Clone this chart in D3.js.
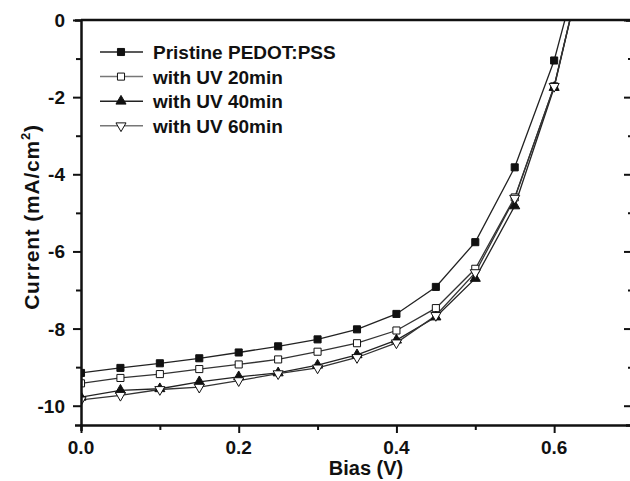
<!DOCTYPE html>
<html>
<head>
<meta charset="utf-8">
<script src="https://cdn.jsdelivr.net/npm/d3@7"></script>
<style>
  body { margin: 0; background: #fff; }
  text { font-family: "Liberation Sans", Arial, sans-serif; font-weight: bold; fill: #111; }
</style>
</head>
<body>
<div id="chart"></div>
<script>
// bias points (V)
const bias = [0, 0.05, 0.1, 0.15, 0.2, 0.25, 0.3, 0.35, 0.4, 0.45, 0.5, 0.55, 0.6, 0.65];

// current density (mA/cm2) for each film
const pristine = [-9.15, -9.02, -8.9, -8.77, -8.62, -8.46, -8.28, -8.02, -7.62, -6.92, -5.76, -3.82, -1.05, 2.8];
const uv20 = [-9.42, -9.28, -9.18, -9.05, -8.93, -8.8, -8.6, -8.38, -8.05, -7.47, -6.45, -4.6, -1.72, 2.6];
const uv40 = [-9.78, -9.6, -9.56, -9.38, -9.25, -9.15, -8.95, -8.68, -8.3, -7.7, -6.7, -4.82, -1.75, 2.6];
const uv60 = [-9.85, -9.73, -9.58, -9.52, -9.35, -9.17, -9.02, -8.75, -8.37, -7.66, -6.55, -4.62, -1.72, 2.6];

const seriesNames = ["Pristine PEDOT:PSS", "with UV 20min", "with UV 40min", "with UV 60min"];
const xTicks = [0, 0.2, 0.4, 0.6];
const yTicks = [0, -2, -4, -6, -8, -10];

const W = 630, H = 481;
const margin = { top: 20, right: -3, bottom: 56, left: 81 };

const svg = d3.select("#chart").append("svg")
  .attr("width", W)
  .attr("height", H);

const x = d3.scaleLinear().domain([0, 0.7]).range([margin.left, W - margin.right]);
const y = d3.scaleLinear().domain([-10.5, 0]).range([H - margin.bottom, margin.top]);

svg.append("clipPath").attr("id", "plot")
  .append("rect")
  .attr("x", x(0)).attr("y", y(0))
  .attr("width", x(0.7) - x(0)).attr("height", y(-10.5) - y(0));

const series = [
  { name: seriesNames[0], values: pristine, shape: d3.symbolSquare, fill: "#111", line: "#222" },
  { name: seriesNames[1], values: uv20, shape: d3.symbolSquare, fill: "#fff", line: "#333" },
  { name: seriesNames[2], values: uv40, shape: d3.symbolTriangle, fill: "#111", line: "#222" },
  { name: seriesNames[3], values: uv60, shape: d3.symbolTriangle, fill: "#fff", line: "#333", flip: true }
];

function marker(g, s, cx, cy) {
  const size = s.shape === d3.symbolSquare ? 50 : 44;
  g.append("path")
    .attr("d", d3.symbol().type(s.shape).size(size))
    .attr("transform", "translate(" + cx + "," + cy + ")" + (s.flip ? " rotate(180)" : ""))
    .attr("fill", s.fill)
    .attr("stroke", "#111")
    .attr("stroke-width", 1);
}

const line = d3.line().x((d, i) => x(bias[i])).y(d => y(d));

const plot = svg.append("g").attr("clip-path", "url(#plot)");

series.forEach(s => {
  plot.append("path")
    .attr("d", line(s.values))
    .attr("fill", "none")
    .attr("stroke", s.line)
    .attr("stroke-width", 1.3);
});
// markers on top of all lines (last point is off-scale, skip it)
series.forEach(s => {
  s.values.forEach((v, i) => {
    if (v <= 0) marker(plot, s, x(bias[i]), y(v));
  });
});

// axes
const minorX = d3.range(0, 0.71, 0.1);
const minorY = d3.range(0, -10.6, -1);

const xAxis = svg.append("g")
  .attr("transform", "translate(0," + y(-10.5) + ")")
  .call(d3.axisBottom(x).tickValues(minorX).tickSize(6).tickFormat(""));
xAxis.selectAll(".tick line").attr("stroke-width", 2)
  .attr("y2", (d) => xTicks.some(t => Math.abs(t - d) < 1e-6) ? 8 : 5);

svg.append("g")
  .attr("transform", "translate(0," + y(-10.5) + ")")
  .selectAll("text").data(xTicks).join("text")
  .attr("x", d => x(d)).attr("y", 29)
  .attr("text-anchor", "middle")
  .attr("font-size", 19)
  .text(d3.format(".1f"));

const yAxis = svg.append("g")
  .attr("transform", "translate(" + x(0) + ",0)")
  .call(d3.axisLeft(y).tickValues(minorY).tickSize(6).tickFormat(""));
yAxis.selectAll(".tick line").attr("stroke-width", 2)
  .attr("x2", d => d % 2 === 0 ? -8 : -5);

svg.append("g")
  .selectAll("text").data(yTicks).join("text")
  .attr("x", x(0) - 16).attr("y", d => y(d) + 7)
  .attr("text-anchor", "end")
  .attr("font-size", 19)
  .text(d => d === 0 ? "0" : d);

// right axis, ticks inward
const rAxis = svg.append("g")
  .attr("transform", "translate(" + x(0.7) + ",0)")
  .call(d3.axisLeft(y).tickValues(minorY).tickSize(7).tickFormat(""));
rAxis.selectAll(".tick line").attr("stroke-width", 2)
  .attr("x2", d => d % 2 === 0 ? -9 : -5);

// top axis
svg.append("line")
  .attr("x1", x(0)).attr("x2", x(0.7))
  .attr("y1", y(0)).attr("y2", y(0))
  .attr("stroke", "#111").attr("stroke-width", 2.5);

svg.selectAll(".domain").attr("stroke", "#111").attr("stroke-width", 2.5);
svg.selectAll(".tick line").attr("stroke", "#111");

// axis titles
svg.append("text")
  .attr("x", 366)
  .attr("y", H - 6)
  .attr("text-anchor", "middle")
  .attr("font-size", 20)
  .text("Bias (V)");

const yt = svg.append("text")
  .attr("transform", "translate(39,217) rotate(-90)")
  .attr("text-anchor", "middle")
  .attr("font-size", 21)
  .attr("letter-spacing", 0.8);
yt.append("tspan").text("Current (mA/cm");
yt.append("tspan").attr("font-size", 13).attr("dy", -9).text("2");
yt.append("tspan").attr("dy", 9).text(")");

// legend
const legend = svg.append("g").attr("transform", "translate(100,52)");
series.forEach((s, i) => {
  const g = legend.append("g").attr("transform", "translate(0," + i * 24.6 + ")");
  g.append("line").attr("x1", 0).attr("x2", 43).attr("y1", 0).attr("y2", 0)
    .attr("stroke", s.fill === "#fff" ? "#777" : "#222").attr("stroke-width", 1.5);
  marker(g, s, 21, 0);
  g.append("text").attr("x", 53).attr("y", 7)
    .attr("font-size", 19)
    .text(s.name);
});
</script>
</body>
</html>
